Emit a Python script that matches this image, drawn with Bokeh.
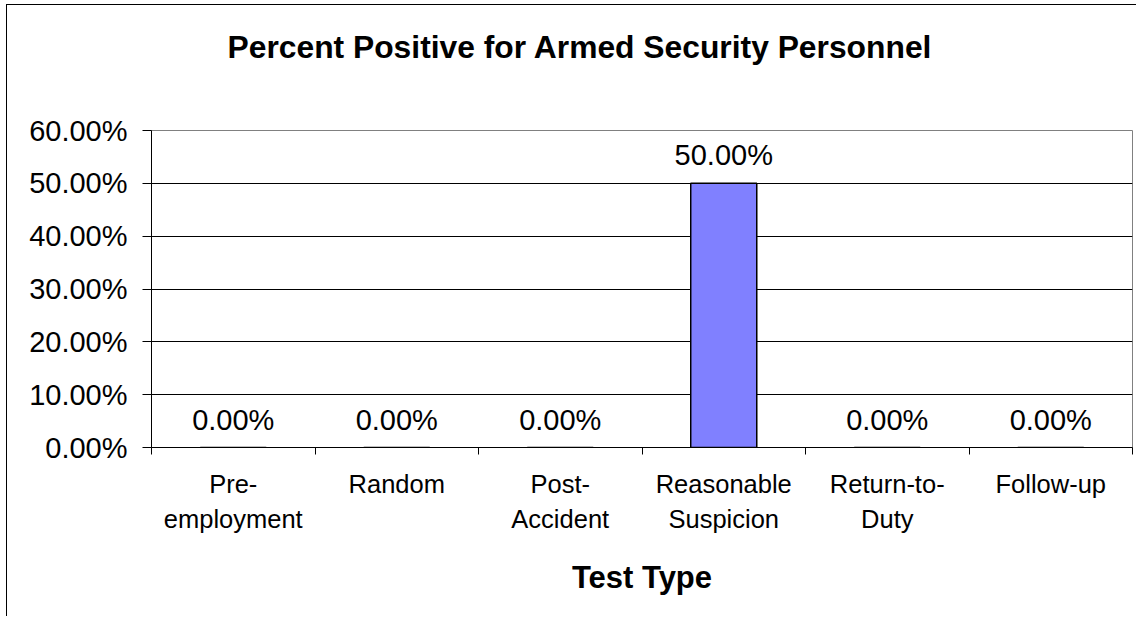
from bokeh.plotting import figure
from bokeh.models import Range1d, FixedTicker, NumeralTickFormatter, ColumnDataSource, Title
from bokeh.core.properties import value
from bokeh.embed import file_html
from bokeh.resources import INLINE

# ---- data ----
categories = ["Pre-\nemployment", "Random", "Post-\nAccident",
              "Reasonable\nSuspicion", "Return-to-\nDuty", "Follow-up"]
percent_positive = [0.0, 0.0, 0.0, 0.50, 0.0, 0.0]
y_ticks = [0.0, 0.1, 0.2, 0.3, 0.4, 0.5, 0.6]
title_text = "Percent Positive for Armed Security Personnel"
x_title = "Test Type"

FONT = "Liberation Sans"

n = len(categories)
centers = [i + 0.5 for i in range(n)]
bounds = [float(i) for i in range(n + 1)]

src = ColumnDataSource(dict(
    x=centers,
    top=percent_positive,
    label=[f"{v:.2%}" for v in percent_positive],
))

p = figure(width=1130, height=612, output_backend="svg", toolbar_location=None,
           x_range=Range1d(0, n), y_range=Range1d(y_ticks[0], y_ticks[-1]),
           min_border_left=144, min_border_right=5, min_border_top=125,
           min_border_bottom=170, tools="")
p.styles = {"margin-left": "6px", "margin-top": "4px",
            "border-left": "1px solid black", "border-top": "1px solid black"}

# spacer between the title and the plot area
p.add_layout(Title(text=" ", text_font_size="1px", standoff=42), "above")

p.title.text = title_text
p.title.text_font = FONT
p.title.text_font_size = "31.8px"
p.title.text_font_style = "bold"
p.title.text_color = "black"
p.title.align = "left"
p.title.offset = 76
p.title.standoff = 42

p.outline_line_color = "#808080"
p.outline_line_width = 1
p.background_fill_color = "white"
p.border_fill_color = "white"

p.vbar(x="x", top="top", bottom=0, width=0.404, source=src,
       fill_color="#8080FF", line_color="black", line_width=1.5)

p.text(x="x", y="top", text="label", source=src,
       text_font=value(FONT), text_font_size="29px", text_color="black",
       text_align="center", text_baseline="alphabetic", y_offset=-28)

# y axis
ya = p.yaxis[0]
ya.ticker = FixedTicker(ticks=y_ticks)
ya.formatter = NumeralTickFormatter(format="0.00%")
ya.major_label_text_font = FONT
ya.major_label_text_font_size = "29px"
ya.major_label_text_color = "black"
ya.major_tick_out = 9
ya.major_tick_in = 0
ya.minor_tick_out = 0
ya.minor_tick_in = 0
ya.major_label_standoff = 15
ya.axis_line_color = "black"
ya.major_tick_line_color = "black"

# x axis
xa = p.xaxis[0]
xa.ticker = FixedTicker(ticks=centers, minor_ticks=bounds)
xa.major_label_overrides = {c: lab for c, lab in zip(centers, categories)}
xa.major_label_text_font = FONT
xa.major_label_text_font_size = "25.5px"
xa.major_label_text_color = "black"
xa.major_label_text_line_height = 1.25
xa.major_tick_out = 0
xa.major_tick_in = 0
xa.minor_tick_out = 7
xa.minor_tick_in = 0
xa.minor_tick_line_color = "black"
xa.axis_line_color = "black"
xa.major_label_standoff = 15
xa.axis_label = x_title
xa.axis_label_text_font = FONT
xa.axis_label_text_font_size = "31px"
xa.axis_label_text_font_style = "bold"
xa.axis_label_text_color = "black"
xa.axis_label_standoff = 24

p.xgrid.visible = False
p.ygrid.ticker = FixedTicker(ticks=y_ticks[1:-1])
p.ygrid.grid_line_color = "black"
p.ygrid.grid_line_width = 1

open("out.html", "w").write(file_html(p, INLINE))
